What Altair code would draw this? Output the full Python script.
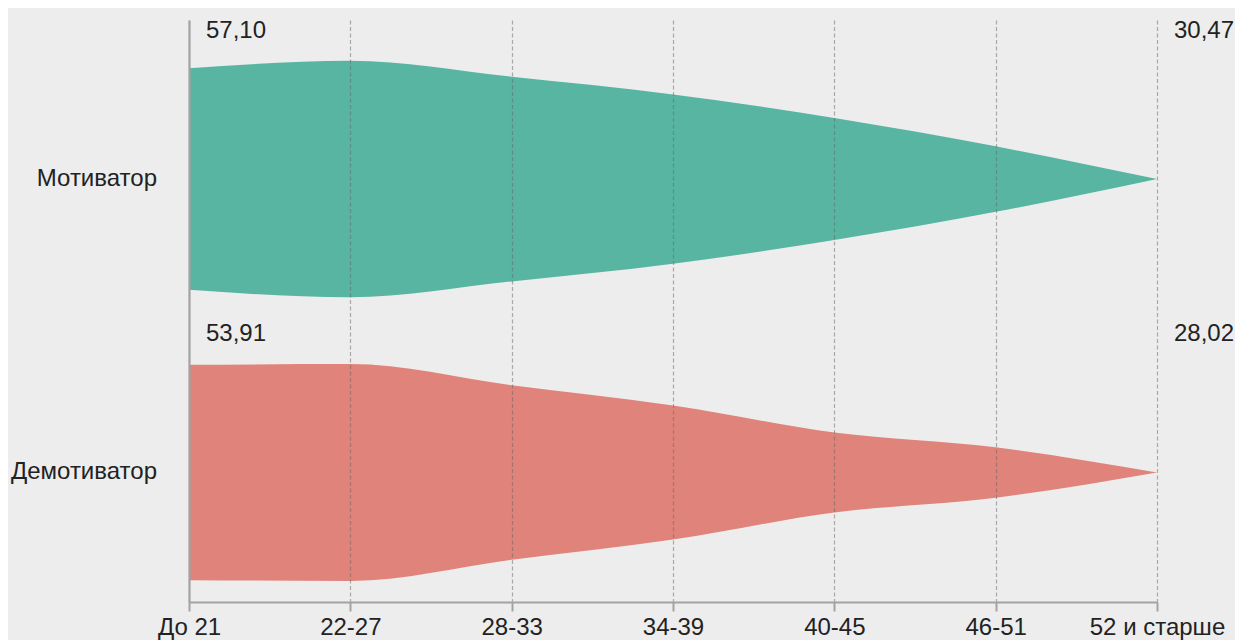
import altair as alt
import pandas as pd

ages = ["До 21", "22-27", "28-33", "34-39", "40-45", "46-51", "52 и старше"]
series_names = ["Мотиватор", "Демотиватор"]
motivator = [57.10, 58.89, 55.07, 50.83, 45.13, 38.34, 30.47]
demotivator = [53.91, 54.08, 48.99, 44.14, 37.64, 34.08, 28.02]
colors = ["#58b5a2", "#e0837a"]

rows = []
for name, vals in zip(series_names, [motivator, demotivator]):
    for i, (a, v) in enumerate(zip(ages, vals)):
        rows.append({"age": a, "idx": i, "series": name, "value": v})
df = pd.DataFrame(rows)

FONT = "Liberation Sans"
FS = 24
Y_MAX = 139.9
# vertical centre line of each stream (layout constant, in y-scale units)
center_expr = "datum.series == 'Мотиватор' ? 101.66 : 31.13"

base = (
    alt.Chart(df)
    .transform_joinaggregate(vmin="min(value)", vmax="max(value)", groupby=["series"])
    .transform_calculate(center=center_expr)
    .transform_calculate(
        y_hi="datum.center + (datum.value - datum.vmin)",
        y_lo="datum.center - (datum.value - datum.vmin)",
        y_lab="datum.center + (datum.vmax - datum.vmin)",
        lab="replace(format(datum.value, '.2f'), '.', ',')",
    )
)

xenc = alt.X(
    "age:N",
    scale=alt.Scale(type="point", domain=ages, padding=0),
    title=None,
    axis=alt.Axis(
        grid=True,
        gridDash=[4, 2.5],
        gridColor="#666666",
        gridOpacity=0.5,
        gridWidth=1.2,
        domainColor="#a3a3a3",
        domainWidth=2,
        tickColor="#a3a3a3",
        tickWidth=2,
        tickSize=9,
        labelFont=FONT,
        labelFontSize=FS,
        labelColor="#222222",
        labelPadding=4,
        labelAngle=0,
        zindex=1,
    ),
)
yscale = alt.Scale(domain=[0, Y_MAX], nice=False, zero=True)

area = base.mark_area(interpolate="monotone", opacity=1).encode(
    x=xenc,
    y=alt.Y(
        "y_hi:Q",
        scale=yscale,
        title=None,
        axis=alt.Axis(
            labels=False, ticks=False, grid=False,
            domainColor="#a3a3a3", domainWidth=2.2, zindex=1,
        ),
    ),
    y2="y_lo:Q",
    color=alt.Color(
        "series:N",
        scale=alt.Scale(domain=series_names, range=colors),
        legend=None,
    ),
)

vlabels = (
    base.transform_filter("datum.idx == 0 || datum.idx == 6")
    .mark_text(align="left", baseline="middle", dx=17, dy=-30,
               font=FONT, fontSize=FS, color="#222222")
    .encode(x=alt.X("age:N"), y=alt.Y("y_lab:Q"), text="lab:N")
)

rlabels = (
    base.transform_filter("datum.idx == 0")
    .mark_text(align="right", baseline="middle", dx=-32,
               font=FONT, fontSize=FS, color="#222222")
    .encode(x=alt.X("age:N"), y=alt.Y("center:Q"), text="series:N")
)

chart = (
    alt.layer(area, vlabels, rlabels)
    .properties(
        width=968,
        height=582,
        background="#ededed",
        autosize=alt.AutoSizeParams(type="none"),
        padding={"left": 181, "top": 12, "right": 78, "bottom": 38},
    )
    .configure_view(stroke=None)
)

chart.save("out.html", embed_options={"renderer": "svg", "actions": False})
